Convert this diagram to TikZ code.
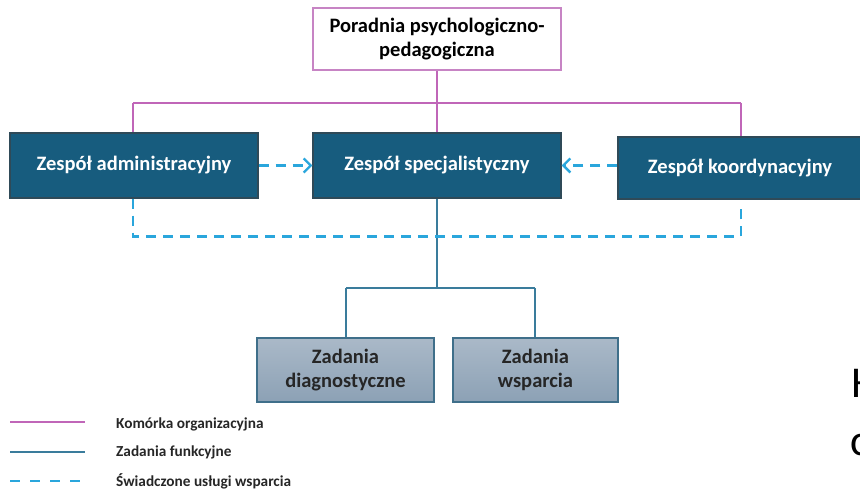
\documentclass[tikz,border=0pt]{standalone}
\usepackage{fontspec}
\setmainfont{Carlito}
\usetikzlibrary{arrows.meta}
\definecolor{mag}{HTML}{C066B8}
\definecolor{magbox}{HTML}{C784C4}
\definecolor{darkbox}{HTML}{175C7E}
\definecolor{darkedge}{HTML}{2F4A58}
\definecolor{teal}{HTML}{3A7C9C}
\definecolor{dash}{HTML}{2AA6DC}
\definecolor{lighttop}{HTML}{AAB9C8}
\definecolor{lightbot}{HTML}{8CA1B5}
\definecolor{lightedge}{HTML}{3F6F8A}
\tikzset{
  topbox/.style={draw=magbox, line width=1.6pt, fill=white, minimum width=248pt, minimum height=62pt, align=center, font=\fontsize{20.5}{24.5}\selectfont\bfseries, text=black, inner sep=0pt},
  darkbox/.style={draw=darkedge, line width=1.2pt, fill=darkbox, minimum width=248pt, minimum height=65pt, align=center, font=\fontsize{20.5}{24.5}\selectfont\bfseries, text=white, inner sep=0pt},
  lightbox/.style={draw=lightedge, line width=1.4pt, top color=lighttop, bottom color=lightbot, minimum height=64pt, align=center, font=\fontsize{20.5}{24.5}\selectfont\bfseries, text=black!85, inner sep=0pt},
  magline/.style={draw=mag, line width=2pt},
  tealline/.style={draw=teal, line width=2pt},
  dashline/.style={draw=dash, line width=2.6pt, dash pattern=on 10pt off 7pt},
  legtext/.style={anchor=west, font=\fontsize{15.3}{18}\selectfont\bfseries, text=black!85, inner sep=0pt},
}
\begin{document}
\begin{tikzpicture}[x=1pt,y=-1pt]
\useasboundingbox (0,0) rectangle (860,489);
% nodes
\node[topbox] (top) at (437,39) {Poradnia psychologiczno-\\pedagogiczna};
\node[darkbox] (adm) at (134,165.5) {Zespół administracyjny};
\node[darkbox] (spec) at (437,165.5) {Zespół specjalistyczny};
\node[darkbox, minimum width=244pt, minimum height=62pt] (koor) at (740,168) {Zespół koordynacyjny};
\node[lightbox, minimum width=177pt] (diag) at (345.5,370) {Zadania\\diagnostyczne};
\node[lightbox, minimum width=165pt] (wsp) at (535.5,370) {Zadania\\wsparcia};
% coordinates
\coordinate (bus) at (437,103);
\coordinate (busL) at (133,103);
\coordinate (busR) at (741,103);
\coordinate (tbus) at (437,288.5);
\coordinate (tbusL) at (346,288.5);
\coordinate (tbusR) at (535,288.5);
\coordinate (dA) at (133,236.5);
\coordinate (dB) at (741,236.5);
\coordinate (kbot) at (741,208);
% magenta tree
\draw[magline] (top.south) -- (bus);
\draw[magline] (busL) -- (busR);
\draw[magline] (busL) -- (busL |- adm.north);
\draw[magline] (bus) -- (spec.north);
\draw[magline] (busR) -- (busR |- koor.north);
% teal tree
\draw[tealline] (spec.south) -- (tbus);
\draw[tealline] (tbusL) -- (tbusR);
\draw[tealline] (tbusL) -- (tbusL |- diag.north);
\draw[tealline] (tbusR) -- (tbusR |- wsp.north);
% dashed
\draw[dashline, -{Straight Barb[length=7pt,width=14pt,line width=2.4pt]}] (adm.east) -- (spec.west);
\draw[dashline, -{Straight Barb[length=7pt,width=14pt,line width=2.4pt]}] (koor.west |- spec.east) -- (spec.east);
\draw[dashline] (busL |- adm.south) -- (dA) -- (dB) -- (kbot);
% legend
\coordinate (l1a) at (10,422); \coordinate (l1b) at (85,422);
\coordinate (l2a) at (10,452); \coordinate (l2b) at (85,452);
\coordinate (l3a) at (10,481); \coordinate (l3b) at (85,481);
\draw[draw=mag, line width=1.8pt] (l1a) -- (l1b);
\draw[draw=teal, line width=1.8pt] (l2a) -- (l2b);
\draw[dashline, dash pattern=on 10pt off 10pt] (l3a) -- (l3b);
\node[legtext] (t1) at (116,424) {Komórka organizacyjna};
\node[legtext] (t2) at (116,452) {Zadania funkcyjne};
\node[legtext] (t3) at (116,481) {Świadczone usługi wsparcia};
% cropped text at right edge (cut off in the reference too)
\node[anchor=base west, font=\fontsize{44}{44}\selectfont, inner sep=0pt] (frag1) at (851,397) {H};
\node[anchor=base west, font=\fontsize{44}{44}\selectfont, inner sep=0pt] (frag2) at (850,455) {c};
\end{tikzpicture}
\end{document}
